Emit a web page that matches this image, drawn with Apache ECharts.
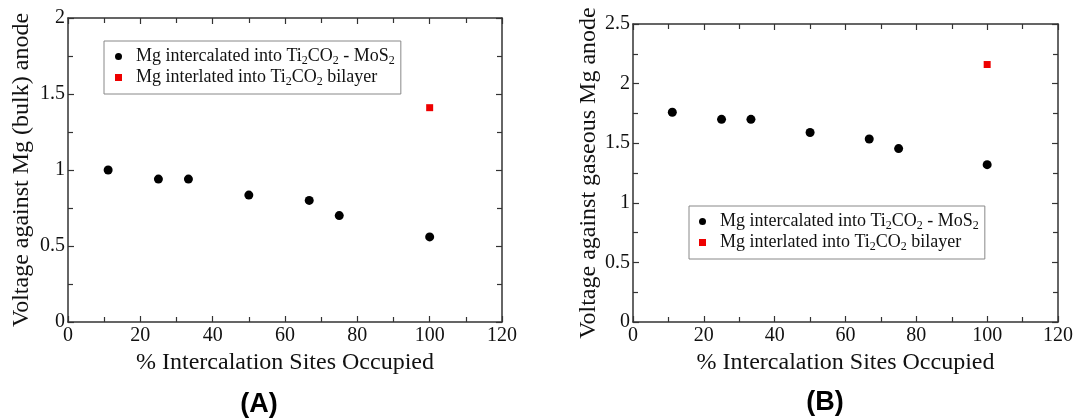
<!DOCTYPE html>
<html>
<head>
<meta charset="utf-8">
<script src="https://cdn.jsdelivr.net/npm/echarts@6/dist/echarts.min.js"></script>
<style>
html,body{margin:0;padding:0;background:#fff;}
#chart{width:1079px;height:419px;}
</style>
</head>
<body>
<div id="chart"></div>
<script>
// ---- data ----
const sitesOccupied = [11.1, 25, 33.3, 50, 66.7, 75, 100];
const voltageBulkMoS2 = [1.00, 0.94, 0.94, 0.835, 0.80, 0.70, 0.56];
const voltageGasMoS2 = [1.76, 1.70, 1.70, 1.59, 1.535, 1.455, 1.32];
const bilayerSites = [100];
const voltageBulkBilayer = [1.41];
const voltageGasBilayer = [2.16];
const xTicks = [0, 20, 40, 60, 80, 100, 120];
const yTicksA = [0, 0.5, 1, 1.5, 2];
const yTicksB = [0, 0.5, 1, 1.5, 2, 2.5];
const seriesNames = ['Mg intercalated into Ti2CO2 - MoS2', 'Mg interlated into Ti2CO2 bilayer'];
const legendRich = {
  'Mg intercalated into Ti2CO2 - MoS2': 'Mg intercalated into Ti{s|2}CO{s|2} - MoS{s|2}',
  'Mg interlated into Ti2CO2 bilayer': 'Mg interlated into Ti{s|2}CO{s|2} bilayer'
};
const xTitle = '% Intercalation Sites Occupied';
const yTitleA = 'Voltage against Mg (bulk) anode';
const yTitleB = 'Voltage against gaseous Mg anode';

const pair = (xs, ys) => xs.map((x, i) => [x, ys[i]]);

const serif = 'Liberation Serif';
const axisColor = '#333';
const textColor = '#111';

function xAxisDef(gridIndex, position, showLabel) {
  return {
    type: 'value', gridIndex, position,
    min: xTicks[0], max: xTicks[xTicks.length - 1], interval: xTicks[1] - xTicks[0],
    name: showLabel ? xTitle : '', nameLocation: 'middle', nameGap: 22,
    nameTextStyle: {fontFamily: serif, fontSize: 24, color: textColor},
    axisLine: {show: true, onZero: false, lineStyle: {color: axisColor, width: 1.5}},
    axisTick: {show: true, inside: true, length: 6, lineStyle: {color: axisColor, width: 1.2}},
    minorTick: {show: true, splitNumber: 2, length: 5, lineStyle: {color: axisColor, width: 1.2}},
    axisLabel: {show: showLabel, fontFamily: serif, fontSize: 20, color: textColor, margin: 4},
    splitLine: {show: false}
  };
}
function yAxisDef(gridIndex, position, showLabel, ticks, title, gap) {
  return {
    type: 'value', gridIndex, position,
    min: ticks[0], max: ticks[ticks.length - 1], interval: ticks[1] - ticks[0],
    name: showLabel ? title : '', nameLocation: 'middle', nameGap: gap,
    nameTextStyle: {fontFamily: serif, fontSize: 24, color: textColor},
    axisLine: {show: true, onZero: false, lineStyle: {color: axisColor, width: 1.5}},
    axisTick: {show: true, inside: true, length: 6, lineStyle: {color: axisColor, width: 1.2}},
    minorTick: {show: true, splitNumber: 2, length: 5, lineStyle: {color: axisColor, width: 1.2}},
    axisLabel: {show: showLabel, fontFamily: serif, fontSize: 20, color: textColor, margin: 3},
    splitLine: {show: false}
  };
}
function legendDef(left, top, padLeft) {
  return {
    orient: 'vertical', left, top,
    padding: [5, 6, 6, padLeft],
    itemGap: 0,
    itemWidth: 25, itemHeight: 7,
    symbolKeepAspect: true,
    borderColor: '#888', borderWidth: 1,
    selectedMode: false,
    data: [
      {name: seriesNames[0], icon: 'circle'},
      {name: seriesNames[1], icon: 'path://M0,0h10v10h-10z'}
    ],
    formatter: name => legendRich[name],
    textStyle: {
      fontFamily: serif, fontSize: 18, color: textColor, lineHeight: 21,
      rich: {s: {fontFamily: serif, fontSize: 12, color: textColor, verticalAlign: 'bottom', lineHeight: 21}}
    }
  };
}

const chart = echarts.init(document.getElementById('chart'), null, {renderer: 'canvas'});
chart.setOption({
  animation: false,
  backgroundColor: '#fff',
  title: [
    {text: '(A)', left: 254, top: 386, textAlign: 'center',
     textStyle: {fontFamily: 'Liberation Sans', fontWeight: 'bold', fontSize: 27, color: '#000'}},
    {text: '(B)', left: 820, top: 384, textAlign: 'center',
     textStyle: {fontFamily: 'Liberation Sans', fontWeight: 'bold', fontSize: 27, color: '#000'}}
  ],
  grid: [
    {left: 68, top: 18, width: 434, height: 304},
    {left: 633, top: 24, width: 425, height: 298}
  ],
  legend: [legendDef(104, 41, 11), legendDef(689, 206, 10)],
  xAxis: [
    xAxisDef(0, 'bottom', true), xAxisDef(0, 'top', false),
    xAxisDef(1, 'bottom', true), xAxisDef(1, 'top', false)
  ],
  yAxis: [
    yAxisDef(0, 'left', true, yTicksA, yTitleA, 34), yAxisDef(0, 'right', false, yTicksA, '', 0),
    yAxisDef(1, 'left', true, yTicksB, yTitleB, 32), yAxisDef(1, 'right', false, yTicksB, '', 0)
  ],
  series: [
    {type: 'scatter', name: seriesNames[0], xAxisIndex: 0, yAxisIndex: 0, symbol: 'circle', symbolSize: 9,
     itemStyle: {color: '#000', opacity: 1}, data: pair(sitesOccupied, voltageBulkMoS2)},
    {type: 'scatter', name: seriesNames[1], xAxisIndex: 0, yAxisIndex: 0, symbol: 'rect', symbolSize: 7,
     itemStyle: {color: '#ee0000', opacity: 1}, data: pair(bilayerSites, voltageBulkBilayer)},
    {type: 'scatter', name: seriesNames[0], xAxisIndex: 2, yAxisIndex: 2, symbol: 'circle', symbolSize: 9,
     itemStyle: {color: '#000', opacity: 1}, data: pair(sitesOccupied, voltageGasMoS2)},
    {type: 'scatter', name: seriesNames[1], xAxisIndex: 2, yAxisIndex: 2, symbol: 'rect', symbolSize: 7,
     itemStyle: {color: '#ee0000', opacity: 1}, data: pair(bilayerSites, voltageGasBilayer)}
  ]
});
</script>
</body>
</html>
